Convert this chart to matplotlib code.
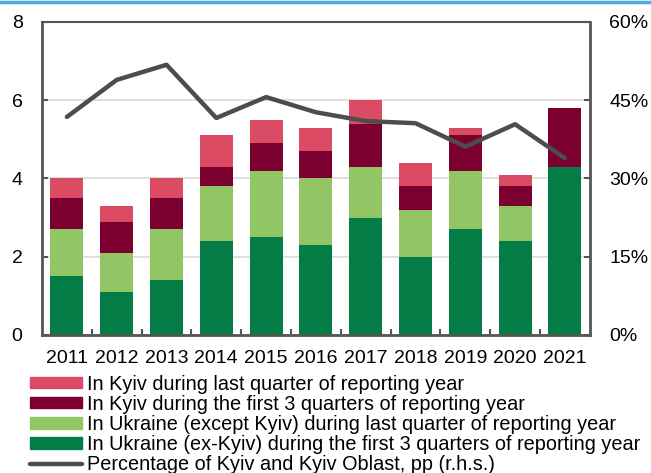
import numpy as np
import matplotlib.pyplot as plt
from matplotlib.lines import Line2D

plt.rcParams['font.family'] = ['Liberation Sans', 'DejaVu Sans']

years = ['2011', '2012', '2013', '2014', '2015', '2016', '2017', '2018', '2019', '2020', '2021']

# stacked components (bottom to top)
ukr_first3 = [1.5, 1.1, 1.4, 2.4, 2.5, 2.3, 3.0, 2.0, 2.7, 2.4, 4.3]
ukr_lastq = [1.2, 1.0, 1.3, 1.4, 1.7, 1.7, 1.3, 1.2, 1.5, 0.9, 0.0]
kyiv_first3 = [0.8, 0.8, 0.8, 0.5, 0.7, 0.7, 1.1, 0.6, 0.9, 0.5, 1.5]
kyiv_lastq = [0.5, 0.4, 0.5, 0.8, 0.6, 0.6, 0.6, 0.6, 0.2, 0.3, 0.0]

# share of Kyiv and Kyiv Oblast, % (r.h.s.)
kyiv_share = [41.8, 48.9, 51.8, 41.6, 45.6, 42.7, 41.0, 40.6, 36.1, 40.4, 33.9]

c_pink = '#dc4b64'
c_dred = '#7b0030'
c_lgreen = '#92c665'
c_dgreen = '#047c46'
c_line = '#4d4d4d'
fs = 14
fs_leg = 14.3

fig = plt.figure(figsize=(6.51, 4.73), dpi=100)
ax = fig.add_axes([0.0645, 0.2918, 0.8415, 0.6617])

x = np.arange(len(years))
w = 0.66
b1 = np.array(ukr_first3)
b2 = b1 + np.array(ukr_lastq)
b3 = b2 + np.array(kyiv_first3)

ax.bar(x, ukr_first3, w, color=c_dgreen, zorder=2)
ax.bar(x, ukr_lastq, w, bottom=b1, color=c_lgreen, zorder=2)
ax.bar(x, kyiv_first3, w, bottom=b2, color=c_dred, zorder=2)
ax.bar(x, kyiv_lastq, w, bottom=b3, color=c_pink, zorder=2)

ax.set_ylim(0, 8)
ax.set_xlim(-0.5, len(years) - 0.5)
ax.set_yticks([0, 2, 4, 6, 8])
ax.set_xticks(x)
ax.set_xticklabels(years)
ax.set_xticks(np.arange(0.5, len(years) - 1, 1), minor=True)
ax.tick_params(axis='x', which='major', length=0, labelsize=fs, pad=11)
ax.tick_params(axis='x', which='minor', direction='in', length=4, width=1.5, color='#555555')
ax.tick_params(axis='y', direction='in', length=4, width=1.5, color='#555555', labelsize=fs, pad=14)
ax.grid(axis='y', color='#d9d9d9', linewidth=1.2, zorder=0)

for s in ax.spines.values():
    s.set_color('#555555')
    s.set_linewidth(2)
ax.spines['top'].set_linewidth(1.5)

ax2 = ax.twinx()
ax2.plot(x, kyiv_share, color=c_line, linewidth=3.2, solid_capstyle='round', zorder=3)
ax2.set_ylim(0, 60)
ax2.set_yticks([0, 15, 30, 45, 60])
ax2.set_yticklabels(['0%', '15%', '30%', '45%', '60%'])
ax2.tick_params(axis='y', direction='in', length=4, width=1.5, color='#555555', labelsize=fs, pad=14)
for s in ax2.spines.values():
    s.set_visible(False)

handles = [
    plt.Rectangle((0, 0), 1, 1, color=c_pink),
    plt.Rectangle((0, 0), 1, 1, color=c_dred),
    plt.Rectangle((0, 0), 1, 1, color=c_lgreen),
    plt.Rectangle((0, 0), 1, 1, color=c_dgreen),
    Line2D([0], [0], color=c_line, linewidth=3.2, solid_capstyle='round'),
]
labels = [
    'In Kyiv during last quarter of reporting year',
    'In Kyiv during the first 3 quarters of reporting year',
    'In Ukraine (except Kyiv) during last quarter of reporting year',
    'In Ukraine (ex-Kyiv) during the first 3 quarters of reporting year',
    'Percentage of Kyiv and Kyiv Oblast, pp (r.h.s.)',
]
fig.legend(handles, labels, loc='upper left', bbox_to_anchor=(0.046, 0.208),
           frameon=False, fontsize=fs_leg, handlelength=2.6, handleheight=0.5,
           handletextpad=0.25, labelspacing=0.06, borderaxespad=0, borderpad=0)

# thin blue rule at the top of the figure
fig.add_artist(Line2D([0, 1], [0.996, 0.996], color='#4aaee0', linewidth=2.5,
                      transform=fig.transFigure))

fig.savefig('out.png', dpi=100)
